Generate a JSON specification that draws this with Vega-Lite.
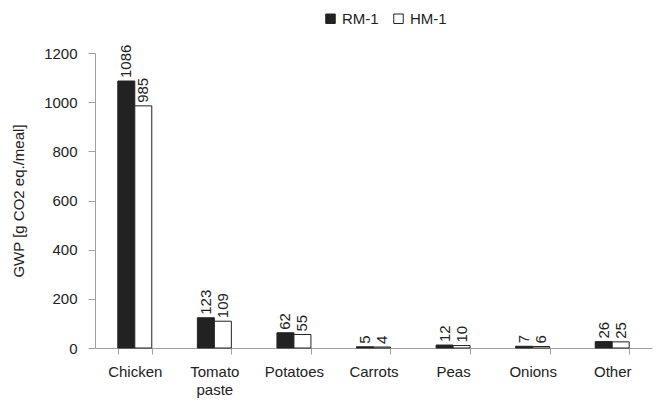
{
  "$schema": "https://vega.github.io/schema/vega-lite/v6.json",
  "width": 557,
  "height": 295,
  "autosize": {"type": "none"},
  "padding": {"left": 95, "top": 53, "right": 18, "bottom": 53},
  "background": "white",
  "config": {
    "view": {"stroke": null},
    "font": "Liberation Sans",
    "axis": {"grid": false, "domainColor": "#a0a0a0", "tickColor": "#a0a0a0", "labelColor": "#222222", "titleColor": "#222222", "labelFontSize": 15, "titleFontSize": 15, "titleFontWeight": "normal", "labelFont": "Liberation Sans", "titleFont": "Liberation Sans"}
  },
  "data": {
    "values": [
      {"item": "Chicken", "meal": "RM-1", "gwp": 1086},
      {"item": "Chicken", "meal": "HM-1", "gwp": 985},
      {"item": "Tomato paste", "meal": "RM-1", "gwp": 123},
      {"item": "Tomato paste", "meal": "HM-1", "gwp": 109},
      {"item": "Potatoes", "meal": "RM-1", "gwp": 62},
      {"item": "Potatoes", "meal": "HM-1", "gwp": 55},
      {"item": "Carrots", "meal": "RM-1", "gwp": 5},
      {"item": "Carrots", "meal": "HM-1", "gwp": 4},
      {"item": "Peas", "meal": "RM-1", "gwp": 12},
      {"item": "Peas", "meal": "HM-1", "gwp": 10},
      {"item": "Onions", "meal": "RM-1", "gwp": 7},
      {"item": "Onions", "meal": "HM-1", "gwp": 6},
      {"item": "Other", "meal": "RM-1", "gwp": 26},
      {"item": "Other", "meal": "HM-1", "gwp": 25}
    ]
  },
  "encoding": {
    "x": {
      "field": "item",
      "type": "nominal",
      "sort": null,
      "scale": {"paddingInner": 0.573, "paddingOuter": 0.2865},
      "axis": {"title": null, "labelAngle": 0, "labelExpr": "split(datum.label, ' ')", "tickBand": "extent", "tickSize": 6, "labelPadding": 10, "labelLineHeight": 18}
    },
    "xOffset": {"field": "meal", "type": "nominal", "sort": ["RM-1", "HM-1"]},
    "y": {
      "field": "gwp",
      "type": "quantitative",
      "scale": {"domain": [0, 1200], "nice": false},
      "axis": {"title": "GWP [g CO2 eq./meal]", "format": "d", "values": [0, 200, 400, 600, 800, 1000, 1200], "tickSize": 7, "labelPadding": 11, "titlePadding": 17}
    }
  },
  "layer": [
    {
      "mark": {"type": "bar", "stroke": "#222222", "strokeWidth": 1},
      "encoding": {
        "fill": {
          "field": "meal",
          "type": "nominal",
          "sort": ["RM-1", "HM-1"],
          "scale": {"domain": ["RM-1", "HM-1"], "range": ["#222222", "#ffffff"]},
          "legend": {
            "title": null,
            "orient": "none",
            "direction": "horizontal",
            "legendX": 228,
            "legendY": -42,
            "symbolType": "square",
            "symbolSize": 90,
            "symbolStrokeColor": "#222222",
            "symbolStrokeWidth": 1,
            "labelFont": "Liberation Sans",
            "labelFontSize": 15,
            "labelColor": "#222222",
            "columnPadding": 12
          }
        }
      }
    },
    {
      "mark": {"type": "text", "angle": 270, "align": "left", "baseline": "middle", "dx": 3, "fontSize": 15, "font": "Liberation Sans", "color": "#222222"},
      "encoding": {"text": {"field": "gwp", "type": "quantitative"}}
    }
  ]
}
